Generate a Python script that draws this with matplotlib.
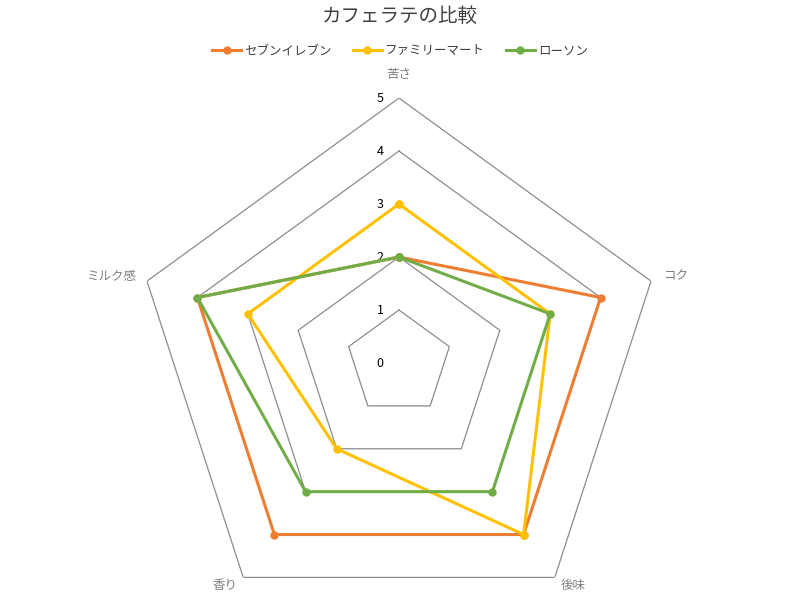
import numpy as np
import matplotlib
matplotlib.use("Agg")
import matplotlib.pyplot as plt

plt.rcParams['font.family'] = ['Noto Sans CJK JP', 'DejaVu Sans']

# data
categories = ["苦さ", "コク", "後味", "香り", "ミルク感"]
seven = [2, 4, 4, 4, 4]
family = [3, 3, 4, 2, 3]
lawson = [2, 3, 3, 3, 4]
series_names = ["セブンイレブン", "ファミリーマート", "ローソン"]
colors = ["#ED7D31", "#FFC000", "#70AD47"]
levels = [0, 1, 2, 3, 4, 5]

n = len(categories)
angles = np.arange(n) * 2 * np.pi / n
closed = np.append(angles, angles[0])

fig = plt.figure(figsize=(8, 6), dpi=100)
ax = fig.add_axes([0.1675, -0.0467, 0.6625, 0.8833], projection='polar')
ax.set_theta_offset(np.pi / 2)
ax.set_theta_direction(-1)
ax.set_ylim(0, 5)
ax.grid(False)
ax.spines['polar'].set_visible(False)
ax.set_xticks([])
ax.set_yticks([])
ax.patch.set_alpha(0)

# pentagon gridlines
for lv in levels[1:]:
    ax.plot(closed, [lv] * (n + 1), color="#8C8C8C", lw=0.9, zorder=1)

# radial tick labels
for lv in levels:
    ax.annotate(str(lv), (0, lv), xytext=(-19, 0), textcoords='offset pixels',
                ha='center', va='center', fontsize=9, color='black')

# category labels, placed just outside the outer vertices
offsets = [(0, 24, 'center'), (12, 5, 'left'), (6, -8, 'left'),
           (-6, -8, 'right'), (-11, 5, 'right')]
for ang, cat, (dx, dy, ha) in zip(angles, categories, offsets):
    ax.annotate(cat, (ang, levels[-1]), xytext=(dx, dy),
                textcoords='offset pixels', ha=ha, va='center',
                fontsize=9, color="#7F7F7F")

for vals, name, c in zip([seven, family, lawson], series_names, colors):
    v = np.append(vals, vals[0])
    ax.plot(closed, v, color=c, lw=2.2, marker='o', markersize=5,
            label=name, zorder=3, clip_on=False)

fig.suptitle("カフェラテの比較", y=0.99, fontsize=14, color="#404040")
fig.legend(loc='upper center', bbox_to_anchor=(0.5, 0.945), ncol=3,
           frameon=False, fontsize=9, handlelength=2.3, handletextpad=0.25,
           columnspacing=1.7, labelcolor="#404040")

fig.savefig("out.png", dpi=100)
